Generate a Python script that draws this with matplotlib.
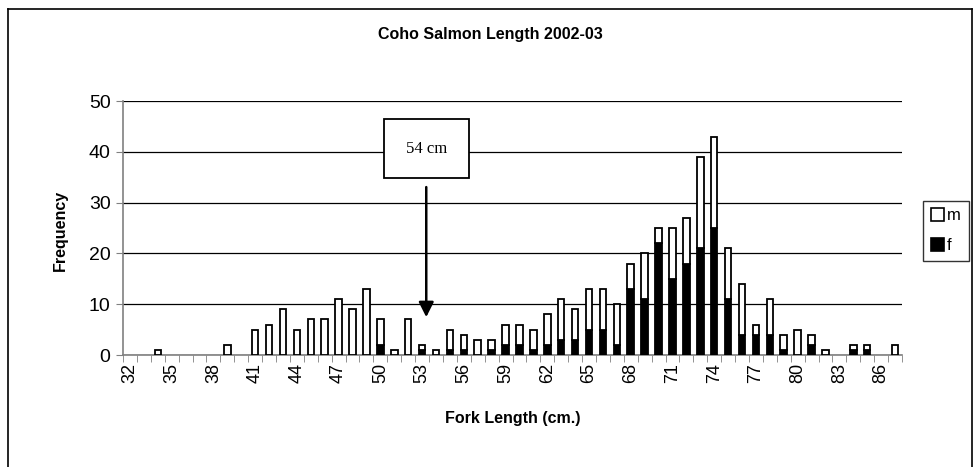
import numpy as np
import matplotlib
matplotlib.use("Agg")
import matplotlib.pyplot as plt
from matplotlib.patches import Patch
from matplotlib.lines import Line2D

# ---------------------------------------------------------------------------
# Data: fork length (cm) vs frequency, stacked f + m
# ---------------------------------------------------------------------------
lengths = list(range(32, 88))
female = [0, 0, 0, 0, 0, 0, 0, 0, 0, 0,      # 32-41
          0, 0, 0, 0, 0, 0, 0, 0, 2, 0,      # 42-51
          0, 1, 0, 1, 1, 0, 1, 2, 2, 1,      # 52-61
          2, 3, 3, 5, 5, 2, 13, 11, 22, 15,  # 62-71
          18, 21, 25, 11, 4, 4, 4, 1, 0, 2,  # 72-81
          0, 0, 1, 1, 0, 0]                  # 82-87
male = [0, 0, 1, 0, 0, 0, 0, 2, 0, 5,        # 32-41
        6, 9, 5, 7, 7, 11, 9, 13, 5, 1,      # 42-51
        7, 1, 1, 4, 3, 3, 2, 4, 4, 4,        # 52-61
        6, 8, 6, 8, 8, 8, 5, 9, 3, 10,       # 62-71
        9, 18, 18, 10, 10, 2, 7, 3, 5, 2,    # 72-81
        1, 0, 1, 1, 0, 2]                    # 82-87
label_lengths = list(range(32, 88, 3))

W, H = 977, 467
fig = plt.figure(figsize=(W / 100, H / 100), dpi=100)
plt.rcParams["font.family"] = ["Liberation Sans", "DejaVu Sans"]

ax = fig.add_axes([123 / W, 1 - 355 / H, 779 / W, 254 / H])

x = np.arange(len(lengths))
f_arr = np.array(female)
m_arr = np.array(male)
# zero-height bars would still draw an outline, so skip them
fk = f_arr > 0
mk = m_arr > 0
ax.bar(x[fk], f_arr[fk], width=0.47, color="black", edgecolor="black",
       linewidth=1.3, zorder=3)
ax.bar(x[mk], m_arr[mk], bottom=f_arr[mk], width=0.47, color="white",
       edgecolor="black", linewidth=1.3, zorder=3)

ax.set_xlim(-0.5, len(lengths) - 0.5)
ax.set_ylim(0, 50)
ax.set_yticks(range(0, 51, 10))
ax.yaxis.grid(True, color="black", linewidth=0.9, zorder=0)
ax.set_axisbelow(True)

# category labels every 3 cm, tick marks between every category
pos = [lengths.index(v) for v in label_lengths]
ax.set_xticks(pos)
ax.set_xticklabels([str(v) for v in label_lengths], rotation=90)
ax.set_xticks(np.arange(-0.5, len(lengths), 1.0), minor=True)
ax.tick_params(axis="x", which="major", length=0, pad=6, labelsize=13)
ax.tick_params(axis="x", which="minor", length=5, color="#808080")
ax.tick_params(axis="y", length=5, color="#808080", pad=4, labelsize=14)

for s in ("top", "right"):
    ax.spines[s].set_visible(False)
for s in ("left", "bottom"):
    ax.spines[s].set_color("#808080")
    ax.spines[s].set_linewidth(1.2)

fig.text(490 / W, 1 - 35 / H, "Coho Salmon Length 2002-03", ha="center", va="center",
         fontsize=11.5, fontweight="bold")
fig.text(60 / W, 1 - 230 / H, "Frequency", ha="center", va="center", rotation=90,
         fontsize=11.5, fontweight="bold")
fig.text(513 / W, 1 - 418 / H, "Fork Length (cm.)", ha="center", va="center",
         fontsize=11.5, fontweight="bold")

# "54 cm" callout with arrow
xa = 21.3
ax.annotate("", xy=(xa, 6.9), xytext=(xa, 33.6),
            arrowprops=dict(arrowstyle="-|>,head_length=0.9,head_width=0.45",
                            color="black", lw=1.8), zorder=5)
ax.text(xa, 40.6, "54 cm", ha="center", va="center", fontsize=12,
        family=["Liberation Serif", "DejaVu Serif"], zorder=6,
        bbox=dict(boxstyle="square,pad=1.3", facecolor="white", edgecolor="black", lw=1.3))

handles = [Patch(facecolor="white", edgecolor="black", linewidth=1.2),
           Patch(facecolor="black", edgecolor="black", linewidth=1.2)]
leg = fig.legend(handles, ["m", "f"], loc="lower left",
                 bbox_to_anchor=(923 / W, 1 - 261 / H), fontsize=12,
                 frameon=True, fancybox=False, edgecolor="black",
                 handlelength=0.8, handleheight=0.8, handletextpad=0.2,
                 borderpad=0.45, labelspacing=0.9, borderaxespad=0)
leg.get_frame().set_linewidth(1.0)

# outer chart border
for xs, ys in [((8, 8), (9, 470)), ((8, 972), (9, 9)), ((972, 972), (9, 470))]:
    fig.add_artist(Line2D([v / W for v in xs], [1 - v / H for v in ys],
                          color="black", linewidth=1.2))

fig.savefig("out.png", dpi=100)
